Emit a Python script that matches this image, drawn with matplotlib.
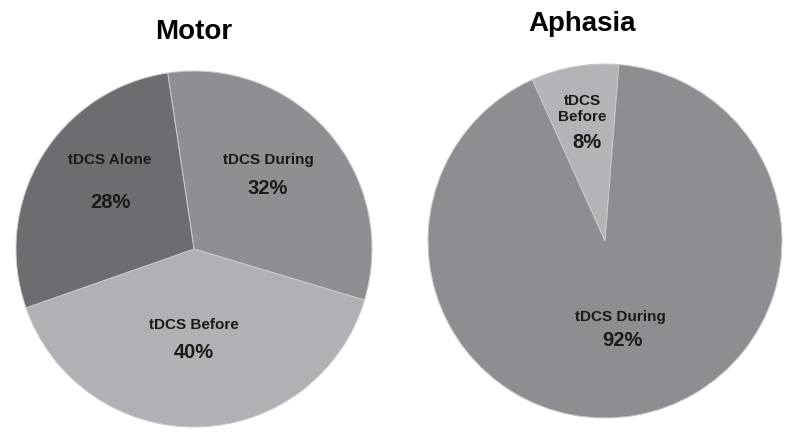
import matplotlib
matplotlib.use("Agg")
import matplotlib.pyplot as plt

plt.rcParams['font.family'] = ['Liberation Sans', 'DejaVu Sans']

motor_labels = ["tDCS During", "tDCS Before", "tDCS Alone"]
motor_values = [32, 40, 28]
motor_colors = ["#8d8f93", "#b0b1b4", "#6c6d71"]

aphasia_labels = ["tDCS\nBefore", "tDCS During"]
aphasia_values = [8, 92]
aphasia_colors = ["#b3b4b7", "#8c8e92"]

W, H = 800, 442
fig = plt.figure(figsize=(8, 4.42), dpi=100)
ax = fig.add_axes([0, 0, 1, 1])

def Y(py):
    return H - py

ec = dict(edgecolor='#c9cacc', linewidth=0.7)

ax.pie(motor_values, colors=motor_colors, startangle=98.5, counterclock=False,
       center=(194, Y(249)), radius=178, wedgeprops=ec, frame=True)
ax.pie(aphasia_values, colors=aphasia_colors, startangle=114.3, counterclock=False,
       center=(605, Y(241)), radius=177, wedgeprops=ec, frame=True)
ax.set_xlim(0, W)
ax.set_ylim(0, H)
ax.set_aspect('equal')
ax.axis('off')

tc = '#1a1a1a'
ax.text(194, Y(32), "Motor", ha='center', va='center', fontsize=20, fontweight='bold', color='black')
ax.text(582, Y(24), "Aphasia", ha='center', va='center', fontsize=20, fontweight='bold', color='black')

lab_fs = 11
pct_fs = 14.5
motor_label_pos = [(268, 160), (194, 325), (110, 160)]
motor_pct_pos = [(268, 188), (194, 353), (110, 203)]
for lab, val, (lx, ly), (px, py) in zip(motor_labels, motor_values, motor_label_pos, motor_pct_pos):
    ax.text(lx, Y(ly), lab, ha='center', va='center', fontsize=lab_fs, fontweight='bold', color=tc)
    ax.text(px, Y(py), f"{val}%", ha='center', va='center', fontsize=pct_fs, fontweight='bold', color=tc)

aph_label_pos = [(582, 109), (620, 317)]
aph_pct_pos = [(587, 143), (622, 340)]
for lab, val, (lx, ly), (px, py) in zip(aphasia_labels, aphasia_values, aph_label_pos, aph_pct_pos):
    ax.text(lx, Y(ly), lab, ha='center', va='center', fontsize=lab_fs, fontweight='bold',
            color=tc, linespacing=1.2)
    ax.text(px, Y(py), f"{val}%", ha='center', va='center', fontsize=pct_fs, fontweight='bold', color=tc)

fig.savefig("out.png", dpi=100, facecolor='white')
